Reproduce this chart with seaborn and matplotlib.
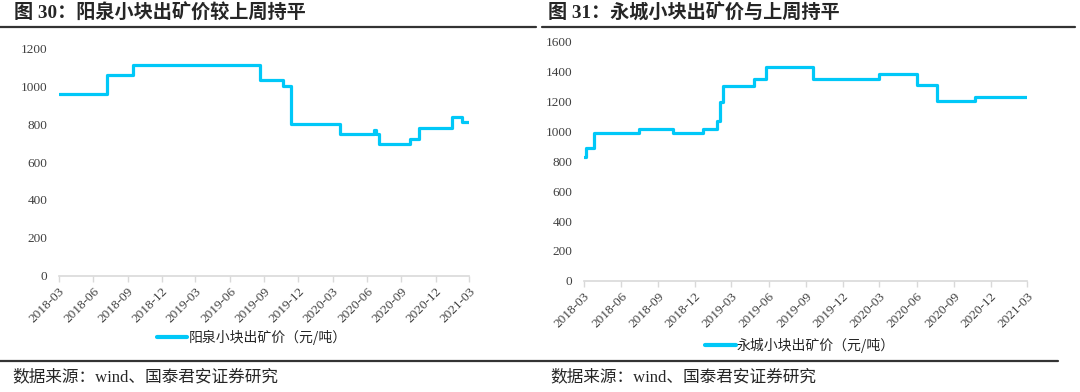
import numpy as np
import pandas as pd
import matplotlib
matplotlib.use("Agg")
import matplotlib.pyplot as plt
from matplotlib.lines import Line2D
import seaborn as sns

# ---------------- data ----------------
yq_dates = ["2018-03-01", "2018-07-07", "2018-09-15", "2019-08-20", "2019-10-20",
            "2019-11-10", "2020-03-22", "2020-06-19", "2020-06-24", "2020-07-04",
            "2020-09-25", "2020-10-18", "2021-01-15", "2021-02-10", "2021-03-01"]
yq_values = [960, 1060, 1110, 1035, 1000, 800, 750, 770, 750, 695, 720, 780, 840, 810, 810]

yc_dates = ["2018-03-01", "2018-03-07", "2018-03-26", "2018-07-15", "2018-10-09",
            "2018-12-21", "2019-01-25", "2019-02-01", "2019-02-08", "2019-04-27",
            "2019-05-25", "2019-09-20", "2020-02-28", "2020-06-01", "2020-07-22",
            "2020-10-23", "2021-03-01"]
yc_values = [830, 890, 990, 1020, 990, 1020, 1070, 1200, 1305, 1350, 1430, 1350,
             1385, 1310, 1207, 1233, 1233]

tick_labels = ["2018-03", "2018-06", "2018-09", "2018-12", "2019-03", "2019-06",
               "2019-09", "2019-12", "2020-03", "2020-06", "2020-09", "2020-12", "2021-03"]

titles = ["图 30：阳泉小块出矿价较上周持平", "图 31：永城小块出矿价与上周持平"]
legends = ["阳泉小块出矿价（元/吨）", "永城小块出矿价（元/吨）"]
source = "数据来源：wind、国泰君安证券研究"

# ---------------- style ----------------
sns.set_theme(style="white")
plt.rcParams["font.family"] = ["Liberation Serif", "Noto Sans CJK SC", "DejaVu Sans"]
CJK = ["Liberation Serif", "Noto Sans CJK SC", "DejaVu Sans"]
LINE = "#00C8F8"
AXC = "#D9D9D9"

W, H = 1080, 392
fig = plt.figure(figsize=(W / 100, H / 100), dpi=100)

def px_axes(l, t, r, b):
    return fig.add_axes([l / W, 1 - b / H, (r - l) / W, (b - t) / H])

ax1 = px_axes(58.7, 48.3, 469.3, 275.7)
ax2 = px_axes(583.7, 42.0, 1027.0, 280.7)

ticks = pd.to_datetime([t + "-01" for t in tick_labels])

def draw(ax, dates, values, ymax, leg, legx, legy):
    df = pd.DataFrame({"date": pd.to_datetime(dates), "value": values})
    sns.lineplot(data=df, x="date", y="value", ax=ax, color=LINE, linewidth=2.3,
                 drawstyle="steps-post", legend=False)
    ax.set_xlim(ticks[0], ticks[-1])
    ax.set_ylim(0, ymax)
    ax.set_yticks(np.arange(0, ymax + 1, 200))
    ax.set_xticks(ticks)
    ax.set_xticklabels(tick_labels, rotation=45, ha="right", rotation_mode="anchor",
                       fontsize=9.5, color="#404040", family="Liberation Serif")
    ax.tick_params(axis="y", labelsize=9.5, labelcolor="#404040", length=0, pad=8)
    ax.tick_params(axis="x", length=4, width=1, color=AXC, pad=3, direction="out",
                   bottom=True)
    for lab in ax.get_yticklabels():
        lab.set_family("Liberation Serif")
    for s in ["top", "right", "left"]:
        ax.spines[s].set_visible(False)
    ax.spines["bottom"].set_color(AXC)
    ax.spines["bottom"].set_linewidth(1.2)
    ax.set_xlabel("")
    ax.set_ylabel("")
    ax.grid(False)
    h = Line2D([], [], color=LINE, linewidth=3)
    ax.legend([h], [leg], loc="center", bbox_to_anchor=(legx, legy), frameon=False,
              handlelength=2.2, handletextpad=0.1,
              prop={"family": ["Noto Sans CJK SC"], "size": 10})

draw(ax1, yq_dates, yq_values, 1200, legends[0], 0.47, -0.273)
draw(ax2, yc_dates, yc_values, 1600, legends[1], 0.488, -0.269)

# titles
fig.text(14 / W, 1 - 13 / H, titles[0], fontsize=13.8, fontweight="bold",
         family=CJK, va="center", ha="left")
fig.text(548 / W, 1 - 13 / H, titles[1], fontsize=13.8, fontweight="bold",
         family=CJK, va="center", ha="left")

# rules
fig.add_artist(Line2D([0, 536 / W], [1 - 27 / H] * 2, color="#333333", linewidth=1.6))
fig.add_artist(Line2D([542 / W, 1075 / W], [1 - 27 / H] * 2, color="#333333", linewidth=1.6))
fig.add_artist(Line2D([0, 1058 / W], [1 - 360.5 / H] * 2, color="#333333", linewidth=1.6))

# sources
fig.text(12 / W, 1 - 377 / H, source, fontsize=12, family=CJK, va="center", ha="left")
fig.text(550 / W, 1 - 377 / H, source, fontsize=12, family=CJK, va="center", ha="left")

fig.savefig("out.png", dpi=100, facecolor="white")
